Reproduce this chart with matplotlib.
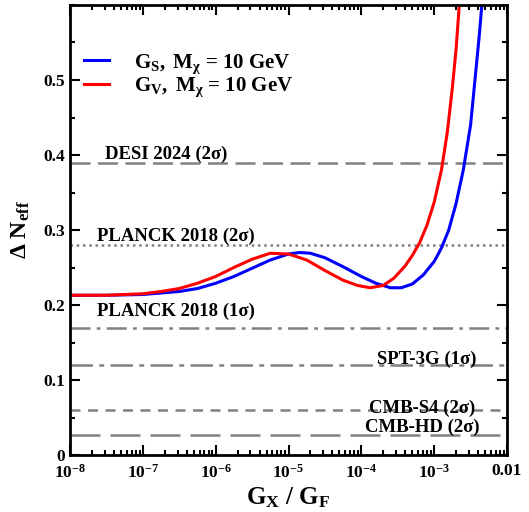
import numpy as np
import matplotlib
matplotlib.use("Agg")
import matplotlib.pyplot as plt
from matplotlib.ticker import FixedLocator, NullFormatter, MultipleLocator

plt.rcParams['font.family'] = ['Liberation Serif', 'DejaVu Serif']
plt.rcParams['font.weight'] = 'bold'
plt.rcParams['mathtext.fontset'] = 'custom'
plt.rcParams['mathtext.rm'] = 'Liberation Serif:bold'
plt.rcParams['mathtext.it'] = 'Liberation Serif:italic:bold'
plt.rcParams['mathtext.bf'] = 'Liberation Serif:bold'

# data (log10 of G_X/G_F, Delta N_eff)
logx_s = [-8, -7.5, -7, -6.75, -6.5, -6.25, -6, -5.75, -5.5, -5.25, -5.0, -4.85, -4.7,
          -4.5, -4.25, -4.0, -3.8, -3.6, -3.45, -3.3, -3.15, -3.0, -2.9, -2.8, -2.7,
          -2.6, -2.5, -2.44, -2.38, -2.32]
dn_s = [0.213, 0.213, 0.214, 0.216, 0.218, 0.222, 0.229, 0.238, 0.249, 0.260, 0.268,
        0.270, 0.269, 0.263, 0.251, 0.238, 0.229, 0.223, 0.223, 0.228, 0.240, 0.258,
        0.276, 0.300, 0.335, 0.38, 0.44, 0.50, 0.56, 0.63]

logx_v = [-8, -7.5, -7, -6.75, -6.5, -6.25, -6, -5.75, -5.5, -5.25, -5.0, -4.75, -4.5,
          -4.25, -4.05, -3.88, -3.7, -3.55, -3.4, -3.3, -3.2, -3.1, -3.0, -2.9, -2.82,
          -2.75, -2.7, -2.64]
dn_v = [0.213, 0.213, 0.215, 0.218, 0.222, 0.229, 0.238, 0.250, 0.261, 0.269, 0.268,
        0.260, 0.246, 0.233, 0.226, 0.223, 0.226, 0.236, 0.252, 0.266, 0.283, 0.306,
        0.337, 0.38, 0.43, 0.49, 0.54, 0.62]

# experimental bounds
bound_names = ['DESI 2024 (2σ)', 'PLANCK 2018 (2σ)', 'PLANCK 2018 (1σ)',
               'SPT-3G (1σ)', 'CMB-S4 (2σ)', 'CMB-HD (2σ)']
bound_vals = [0.39, 0.28, 0.17, 0.12, 0.06, 0.027]
bound_styles = [(0, (8, 3)), (0, (1, 1.5)), (0, (8, 2.5, 1.5, 2.5)),
                (0, (9, 2.5, 2, 2.5)), (0, (4, 3)), (0, (12, 4))]
# label anchor (axes fraction x, data y of baseline, alignment)
label_pos = [(0.080, 0.395, 'left'), (0.062, 0.285, 'left'), (0.062, 0.185, 'left'),
             (0.931, 0.121, 'right'), (0.927, 0.056, 'right'), (0.938, 0.031, 'right')]

xticks = [1e-8, 1e-7, 1e-6, 1e-5, 1e-4, 1e-3, 1e-2]
xticklabels = [r'$\mathrm{10^{-8}}$', r'$\mathrm{10^{-7}}$', r'$\mathrm{10^{-6}}$',
               r'$\mathrm{10^{-5}}$', r'$\mathrm{10^{-4}}$', r'$\mathrm{10^{-3}}$', '0.01']
yticks = [0, 0.1, 0.2, 0.3, 0.4, 0.5]
yticklabels = ['0', '0.1', '0.2', '0.3', '0.4', '0.5']

fig = plt.figure(figsize=(5.29, 5.12), dpi=100)
ax = fig.add_axes([70 / 529, 57 / 512, 437 / 529, 450 / 512])

ax.plot(10 ** np.array(logx_s), dn_s, color='#0000ff', lw=2.2,
        label=r'$\mathrm{G_S,\ M_\chi}$ = 10 GeV')
ax.plot(10 ** np.array(logx_v), dn_v, color='#ff0000', lw=2.2,
        label=r'$\mathrm{G_V,\ M_\chi}$ = 10 GeV')

for val, ls in zip(bound_vals, bound_styles):
    ax.axhline(val, color='#808080', lw=1.8, linestyle=ls, zorder=1)

for name, (px, py, ha) in zip(bound_names, label_pos):
    ax.text(px, py, name, transform=ax.get_yaxis_transform(),
            fontsize=13.5, va='baseline', ha=ha)

ax.set_xscale('log')
ax.set_xlim(1e-8, 1e-2)
ax.set_ylim(0, 0.6)
ax.set_xticks(xticks)
ax.set_xticklabels(xticklabels)
ax.set_yticks(yticks)
ax.set_yticklabels(yticklabels)
ax.yaxis.set_minor_locator(MultipleLocator(0.05))
minor = [m * 10.0 ** e for e in range(-8, -2) for m in range(2, 10)]
ax.xaxis.set_minor_locator(FixedLocator(minor))
ax.xaxis.set_minor_formatter(NullFormatter())

ax.tick_params(which='both', direction='in', top=True, right=True, width=1.5,
               labelsize=12.5)
ax.tick_params(which='major', length=7)
ax.tick_params(which='minor', length=3.5)
ax.tick_params(axis='x', pad=6)
for sp in ax.spines.values():
    sp.set_linewidth(2)

ax.set_xlabel(r'$\mathrm{G_X\ /\ G_F}$', fontsize=18, labelpad=3)
ax.set_ylabel(r'$\mathrm{\Delta\ N_{eff}}$', fontsize=17, labelpad=8)

ax.legend(loc='upper left', bbox_to_anchor=(-0.01, 0.937), frameon=False,
          fontsize=15, handlelength=1.2, handletextpad=1.2, labelspacing=0.0)

fig.savefig('out.png', dpi=100)
